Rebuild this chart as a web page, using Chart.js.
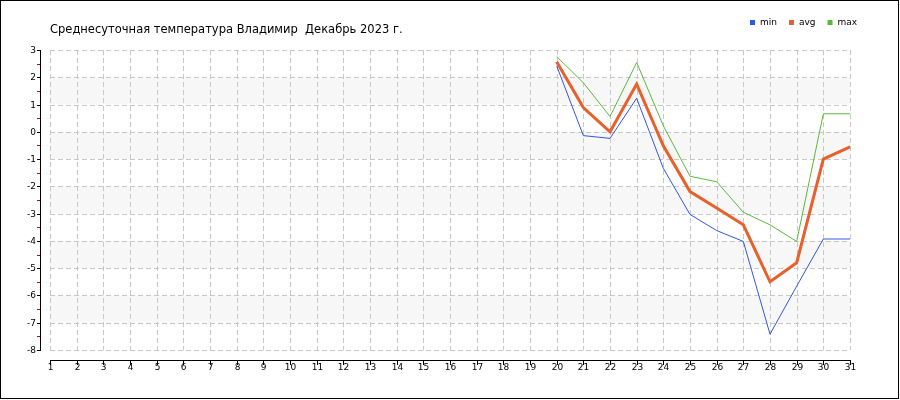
<!DOCTYPE html>
<html>
<head>
<meta charset="utf-8">
<script src="https://cdn.jsdelivr.net/npm/chart.js@4/dist/chart.umd.min.js"></script>
<style>
  html, body { margin: 0; padding: 0; background: #fff; }
  #wrap { width: 900px; height: 400px; }
</style>
</head>
<body>
<div id="wrap"><canvas id="myChart" width="900" height="400"></canvas></div>
<script>
// days of December
const days = [1, 2, 3, 4, 5, 6, 7, 8, 9, 10, 11, 12, 13, 14, 15, 16, 17, 18, 19, 20, 21, 22, 23, 24, 25, 26, 27, 28, 29, 30, 31];
const yTicks = [3, 2, 1, 0, -1, -2, -3, -4, -5, -6, -7, -8];
const title = "Среднесуточная температура Владимир  Декабрь 2023 г.";

// no data before the 20th
const minT = [null, null, null, null, null, null, null, null, null, null, null, null, null, null, null, null, null, null, null,
  2.42, -0.14, -0.24, 1.23, -1.34, -3.03, -3.62, -4.02, -7.42, -5.66, -3.93, -3.93];
const avgT = [null, null, null, null, null, null, null, null, null, null, null, null, null, null, null, null, null, null, null,
  2.57, 0.89, 0.0, 1.75, -0.51, -2.19, -2.79, -3.41, -5.5, -4.8, -1.0, -0.55];
const maxT = [null, null, null, null, null, null, null, null, null, null, null, null, null, null, null, null, null, null, null,
  2.76, 1.8, 0.56, 2.54, 0.22, -1.63, -1.83, -2.95, -3.41, -4.02, 0.66, 0.66];

const legendItems = [
  { text: "min", color: "#3355e6" },
  { text: "avg", color: "#e8602c" },
  { text: "max", color: "#5db83a" },
];

const font = "'DejaVu Sans', Tahoma, sans-serif";

const frame = {
  id: "frame",
  beforeDatasetsDraw(chart) {
    const ctx = chart.ctx;
    const x = chart.scales.x, y = chart.scales.y;
    const area = chart.chartArea;
    ctx.save();
    // shaded bands 2..1, 0..-1, ...
    ctx.fillStyle = "#f7f7f7";
    for (let v = 2; v > -8; v -= 2) {
      const top = y.getPixelForValue(v), bot = y.getPixelForValue(v - 1);
      ctx.fillRect(area.left, top, area.right - area.left, bot - top);
    }
    ctx.strokeStyle = "#c8c8c8";
    ctx.lineWidth = 1;
    ctx.setLineDash([5, 3]);
    yTicks.forEach((v) => {
      const py = Math.round(y.getPixelForValue(v)) + 0.5;
      ctx.beginPath();
      ctx.moveTo(area.left, py);
      ctx.lineTo(area.right, py);
      ctx.stroke();
    });
    days.forEach((d, i) => {
      const px = Math.round(x.getPixelForValue(i)) + 0.5;
      ctx.beginPath();
      ctx.moveTo(px, area.top);
      ctx.lineTo(px, area.bottom);
      ctx.stroke();
    });
    ctx.restore();
  },
  afterDraw(chart) {
    const ctx = chart.ctx;
    const x = chart.scales.x, y = chart.scales.y;
    ctx.save();
    ctx.setLineDash([]);

    // y axis
    const yTop = Math.round(y.getPixelForValue(3));
    const yBot = Math.round(y.getPixelForValue(-8));
    ctx.fillStyle = "#000";
    ctx.fillRect(40, yTop, 1, yBot - yTop + 1);
    ctx.font = "9px " + font;
    ctx.textAlign = "right";
    ctx.textBaseline = "middle";
    yTicks.forEach((v) => {
      const py = Math.round(y.getPixelForValue(v));
      ctx.fillStyle = "#000";
      ctx.fillRect(37, py, 4, 1);
      ctx.fillText(String(v), 36, py + 0.5);
      if (v > -8) {
        const ph = Math.round(y.getPixelForValue(v - 0.5));
        ctx.fillStyle = "#e00000";
        ctx.fillRect(37, ph, 3, 1);
      }
    });

    // x axis
    const ay = 360;
    const x0 = Math.round(x.getPixelForValue(0));
    const x1 = Math.round(x.getPixelForValue(days.length - 1));
    ctx.fillStyle = "#000";
    ctx.fillRect(x0, ay, x1 - x0 + 1, 1);
    ctx.textAlign = "center";
    ctx.textBaseline = "middle";
    days.forEach((d, i) => {
      const px = Math.round(x.getPixelForValue(i));
      ctx.fillRect(px, ay, 1, 5);
      ctx.fillText(String(d), px + 0.5, 368);
    });

    // title
    ctx.font = "11.5px " + font;
    ctx.textAlign = "left";
    ctx.textBaseline = "alphabetic";
    ctx.fillText(title, 50, 33);

    // legend
    ctx.font = "9px " + font;
    ctx.textBaseline = "middle";
    let lx = 750;
    legendItems.forEach((it) => {
      ctx.fillStyle = it.color;
      ctx.fillRect(lx, 20, 5, 5);
      ctx.fillStyle = "#000";
      ctx.fillText(it.text, lx + 10, 22.5);
      lx += 10 + ctx.measureText(it.text).width + 12;
    });

    // outer frame
    ctx.strokeStyle = "#000";
    ctx.lineWidth = 1;
    ctx.strokeRect(0.5, 0.5, 898, 398);
    ctx.restore();
  },
};

const ctx = document.getElementById("myChart").getContext("2d");
const myChart = new Chart(ctx, {
  type: "line",
  data: {
    labels: days,
    datasets: [
      { label: "max", data: maxT, borderColor: legendItems[2].color, borderWidth: 1, pointRadius: 0, tension: 0 },
      { label: "min", data: minT, borderColor: legendItems[0].color, borderWidth: 1, pointRadius: 0, tension: 0 },
      { label: "avg", data: avgT, borderColor: legendItems[1].color, borderWidth: 3, pointRadius: 0, tension: 0 },
    ],
  },
  options: {
    responsive: false,
    animation: false,
    events: [],
    layout: { padding: { left: 50, right: 50, top: 50, bottom: 50 } },
    plugins: { legend: { display: false }, tooltip: { enabled: false }, title: { display: false } },
    scales: {
      x: { display: false, offset: false },
      y: { display: false, min: -8, max: 3 },
    },
  },
  plugins: [frame],
});
</script>
</body>
</html>
